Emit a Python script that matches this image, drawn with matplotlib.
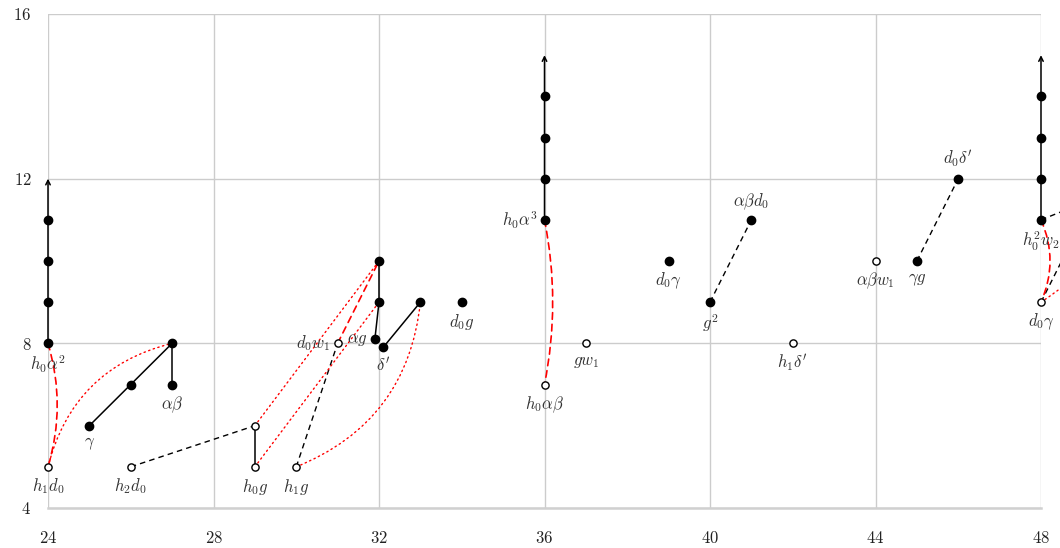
import matplotlib
matplotlib.use("Agg")
import matplotlib.pyplot as plt
from matplotlib.patches import FancyArrowPatch

plt.rcParams['mathtext.fontset'] = 'cm'
plt.rcParams['font.family'] = 'serif'

# filled (black) and open (white) classes
filled_x = [24, 24, 24, 24, 25, 26, 27, 27, 32, 32, 31.9, 32.1, 33, 34,
            36, 36, 36, 36, 39, 40, 41, 45, 46, 48, 48, 48, 48]
filled_y = [8, 9, 10, 11, 6, 7, 8, 7, 10, 9, 8.1, 7.9, 9, 9,
            11, 12, 13, 14, 10, 9, 11, 10, 12, 11, 12, 13, 14]
open_x = [24, 26, 29, 29, 30, 31, 36, 37, 42, 44, 48]
open_y = [5, 5, 6, 5, 5, 8, 7, 8, 8, 10, 9]

# towers with arrows: x, bottom, top
tower_x = [24, 36, 48]
tower_lo = [8, 11, 11]
tower_hi = [12, 15, 15]

# solid segments (x1, y1, x2, y2)
solid = [(25, 6, 27, 8), (27, 7, 27, 8), (29, 5, 29, 6),
         (32, 9, 32, 10), (31.9, 8.1, 32, 9), (32.1, 7.9, 33, 9)]
# black dashed segments
black_dash = [(26, 5, 29, 6), (30, 5, 31, 8), (40, 9, 41, 11),
              (45, 10, 46, 12), (48, 11, 53, 13), (48, 9, 50, 13)]
# red dashed (x1, y1, x2, y2, bend)
red_dash = [(24, 8, 24, 5, -0.15), (36, 11, 36, 7, -0.1),
            (48, 11, 48, 9, -0.22), (31, 8, 32, 10, 0.0)]
# red dotted
red_dot = [(24, 5, 27, 8, -0.3), (29, 6, 32, 10, 0.0), (29, 5, 32, 9, 0.0),
           (30, 5, 33, 9, 0.3), (48, 9, 51, 12, 0.1)]

# labels: text, x, y, placement
labels = [
    (r'$h_0\alpha^2$', 24, 8, 'below'),
    (r'$h_1d_0$', 24, 5, 'below'),
    (r'$\gamma$', 25, 6, 'below'),
    (r'$\alpha\beta$', 27, 7, 'below'),
    (r'$h_2d_0$', 26, 5, 'below'),
    (r'$h_0g$', 29, 5, 'below'),
    (r'$h_1g$', 30, 5, 'below'),
    (r'$d_0w_1$', 31, 8, 'left'),
    (r'$\alpha g$', 31.9, 8.1, 'left'),
    (r"$\delta'$", 32.1, 7.9, 'below'),
    (r'$d_0g$', 34, 9, 'below'),
    (r'$h_0\alpha^3$', 36, 11, 'left'),
    (r'$h_0\alpha\beta$', 36, 7, 'below'),
    (r'$gw_1$', 37, 8, 'below'),
    (r'$d_0\gamma$', 39, 10, 'below'),
    (r'$g^2$', 40, 9, 'below'),
    (r'$\alpha\beta d_0$', 41, 11, 'above'),
    (r"$h_1\delta'$", 42, 8, 'below'),
    (r'$\alpha\beta w_1$', 44, 10, 'below'),
    (r'$\gamma g$', 45, 10, 'below'),
    (r"$d_0\delta'$", 46, 12, 'above'),
    (r'$h_0^2w_2$', 48, 11, 'below'),
    (r'$d_0\gamma$', 48, 9, 'below'),
]

fig = plt.figure(figsize=(10.6, 5.48), dpi=100)
ax = fig.add_axes([48 / 1060, 40 / 548, 993 / 1060, 494 / 548])
ax.set_xlim(24, 48)
ax.set_ylim(4, 16)
ax.set_xticks(range(24, 49, 4))
ax.set_yticks(range(4, 17, 4))
ax.set_xticklabels([f'${v}$' for v in range(24, 49, 4)])
ax.set_yticklabels([f'${v}$' for v in range(4, 17, 4)])
ax.tick_params(length=0, labelsize=12, colors='#222')
ax.tick_params(axis='x', pad=16)
ax.tick_params(axis='y', pad=12)
ax.grid(True, color='#cccccc', lw=1)
for s in ['top', 'right', 'left']:
    ax.spines[s].set_visible(False)
ax.spines['bottom'].set_color('#d0d0d0')
ax.spines['bottom'].set_linewidth(1.8)
ax.set_axisbelow(True)

for x, lo, hi in zip(tower_x, tower_lo, tower_hi):
    ax.annotate('', xy=(x, hi), xytext=(x, lo), annotation_clip=False,
                arrowprops=dict(arrowstyle='->', lw=1.1, color='black',
                                shrinkA=0, shrinkB=0, mutation_scale=8))

for x1, y1, x2, y2 in solid:
    ax.plot([x1, x2], [y1, y2], color='black', lw=1.1, clip_on=False, zorder=2)
for x1, y1, x2, y2 in black_dash:
    ax.plot([x1, x2], [y1, y2], color='black', lw=1.0, ls=(0, (4, 3)),
            clip_on=False, zorder=2)


def curve(x1, y1, x2, y2, rad, ls, lw):
    p = FancyArrowPatch((x1, y1), (x2, y2), arrowstyle='-',
                        connectionstyle=f'arc3,rad={rad}', color='red',
                        lw=lw, linestyle=ls, shrinkA=0, shrinkB=0,
                        clip_on=False, zorder=2)
    ax.add_patch(p)


for x1, y1, x2, y2, r in red_dash:
    curve(x1, y1, x2, y2, r, (0, (4, 3)), 1.2)
for x1, y1, x2, y2, r in red_dot:
    curve(x1, y1, x2, y2, r, (0, (1, 2.5)), 1.0)

ax.plot(filled_x, filled_y, 'o', color='black', ms=6, clip_on=False, zorder=4)
ax.plot(open_x, open_y, 'o', mfc='white', mec='black', mew=1.0, ms=5.2,
        clip_on=False, zorder=4)

offsets = {'below': ((0, -7), 'center', 'top'),
           'above': ((0, 6), 'center', 'bottom'),
           'left': ((-5, 0), 'right', 'center')}
for txt, x, y, where in labels:
    off, ha, va = offsets[where]
    ax.annotate(txt, (x, y), xytext=off, textcoords='offset points',
                ha=ha, va=va, fontsize=12, color='#333333',
                annotation_clip=False, zorder=5)

fig.savefig('out.png', dpi=100)
